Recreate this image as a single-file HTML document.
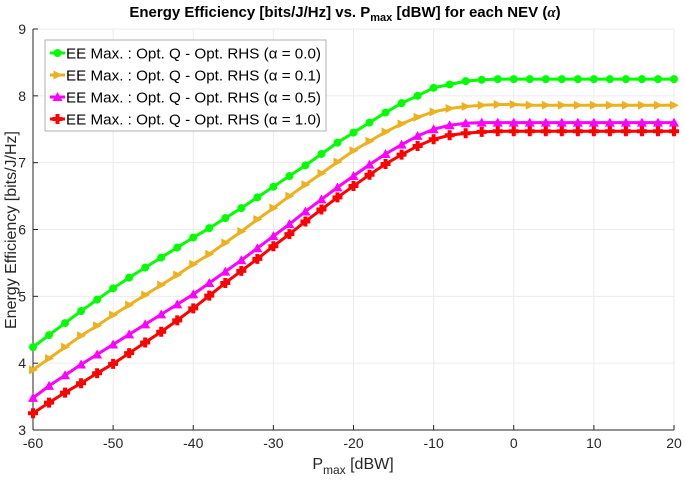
<!DOCTYPE html>
<html><head><meta charset="utf-8"><style>
body{margin:0;background:#fff;font-family:"Liberation Sans",sans-serif}
svg{display:block}
</style></head><body>
<svg id="c" width="685" height="481">
<text x="345" y="17" text-anchor="middle" font-size="15" font-weight="bold" fill="#000">Energy Efficiency [bits/J/Hz] vs. P<tspan font-size="11" dy="4">max</tspan><tspan dy="-4"> [dBW] for each NEV (</tspan><tspan font-style="italic" font-family="Liberation Serif">α</tspan>)</text>
<g id="grid"></g><g id="axes"></g><g id="series"></g><g id="legend"></g>
<text x="353" y="469" text-anchor="middle" font-size="16" fill="#262626">P<tspan font-size="12" dy="5">max</tspan><tspan dy="-5"> [dBW]</tspan></text>
<text transform="translate(16,230) rotate(-90)" text-anchor="middle" font-size="16" fill="#262626">Energy Efficiency [bits/J/Hz]</text>
</svg>
<script>
const xs=[-60,-58,-56,-54,-52,-50,-48,-46,-44,-42,-40,-38,-36,-34,-32,-30,-28,-26,-24,-22,-20,-18,-16,-14,-12,-10,-8,-6,-4,-2,0,2,4,6,8,10,12,14,16,18,20];
const green=[4.24,4.42,4.6,4.78,4.95,5.12,5.28,5.43,5.58,5.73,5.88,6.02,6.17,6.32,6.48,6.64,6.8,6.96,7.13,7.3,7.45,7.6,7.75,7.89,8.0,8.12,8.17,8.22,8.24,8.25,8.25,8.25,8.25,8.25,8.25,8.25,8.25,8.25,8.25,8.25,8.25];
const orange=[3.9,4.07,4.24,4.41,4.56,4.72,4.87,5.02,5.17,5.32,5.48,5.63,5.8,5.97,6.15,6.32,6.5,6.67,6.84,7.01,7.18,7.32,7.46,7.58,7.68,7.76,7.81,7.84,7.86,7.87,7.87,7.86,7.86,7.86,7.86,7.86,7.86,7.86,7.86,7.86,7.86];
const magenta=[3.48,3.66,3.82,3.98,4.13,4.28,4.43,4.58,4.73,4.88,5.03,5.2,5.37,5.54,5.72,5.9,6.08,6.27,6.45,6.63,6.8,6.97,7.13,7.27,7.4,7.5,7.56,7.59,7.6,7.6,7.6,7.6,7.6,7.6,7.6,7.6,7.6,7.6,7.6,7.6,7.6];
const red=[3.25,3.41,3.56,3.7,3.85,3.99,4.15,4.31,4.47,4.64,4.82,5.01,5.2,5.38,5.56,5.75,5.93,6.12,6.3,6.48,6.65,6.82,6.98,7.12,7.25,7.35,7.41,7.44,7.46,7.47,7.47,7.47,7.47,7.47,7.47,7.47,7.47,7.47,7.47,7.47,7.47];
const xTicks=[-60,-50,-40,-30,-20,-10,0,10,20];
const yTicks=[3,4,5,6,7,8,9];
const labels=["EE Max. : Opt. Q - Opt. RHS (α = 0.0)","EE Max. : Opt. Q - Opt. RHS (α = 0.1)","EE Max. : Opt. Q - Opt. RHS (α = 0.5)","EE Max. : Opt. Q - Opt. RHS (α = 1.0)"];
const NS="http://www.w3.org/2000/svg";
const L=33,R=674,T=29,B=430;
const X=v=>L+(v+60)/80*(R-L), Y=v=>B-(v-3)/6*(B-T);
function mk(t,a,p){const e=document.createElementNS(NS,t);for(const k in a)e.setAttribute(k,a[k]);(p||document.getElementById('c')).appendChild(e);return e;}
const grid=document.getElementById('grid'),axes=document.getElementById('axes'),ser=document.getElementById('series'),leg=document.getElementById('legend');
mk('rect',{x:L,y:T,width:R-L,height:B-T,fill:'#fff',stroke:'none'},grid);
xTicks.forEach(t=>{const x=X(t);
 const g=mk('line',{x1:x,x2:x,y1:T,y2:B,stroke:'#ebebeb','stroke-width':1},grid);
 
 mk('line',{x1:x,x2:x,y1:B,y2:B-5,stroke:'#262626'},axes);
 const tx=mk('text',{x:x,y:B+18,'text-anchor':'middle','font-size':14,fill:'#262626'},axes);tx.textContent=t;
 });
yTicks.forEach(t=>{const y=Y(t);
 const g=mk('line',{x1:L,x2:R,y1:y,y2:y,stroke:'#ebebeb','stroke-width':1},grid);
 
 mk('line',{x1:L,x2:L+5,y1:y,y2:y,stroke:'#262626'},axes);
 const tx=mk('text',{x:L-7,y:y+5,'text-anchor':'end','font-size':14,fill:'#262626'},axes);tx.textContent=t;
 });
mk('line',{x1:L,x2:R,y1:B,y2:B,stroke:'#262626'},axes);
mk('line',{x1:L,x2:L,y1:T,y2:B,stroke:'#262626'},axes);
const series=[[green,'#00ff00','circle'],[orange,'#edb120','right'],[magenta,'#ff00ff','up'],[red,'#ff0000','plus']];
function marker(kind,x,y,col,p){
 if(kind==='circle')return mk('circle',{cx:x,cy:y,r:4,fill:col},p);
 if(kind==='right')return mk('polygon',{points:`${x-4},${y-4.5} ${x+5},${y} ${x-4},${y+4.5}`,fill:col},p);
 if(kind==='up')return mk('polygon',{points:`${x},${y-5} ${x+5},${y+4} ${x-5},${y+4}`,fill:col},p);
 return mk('path',{d:`M${x-2},${y-5}h4v3h3v4h-3v3h-4v-3h-3v-4h3z`,fill:col},p);
}
series.forEach((s,i)=>{const [d,col,kind]=s;
 const g=mk('g',{},ser);
 const pl=mk('polyline',{points:xs.map((v,j)=>X(v)+','+Y(d[j])).join(' '),fill:'none',stroke:col,'stroke-width':3},g);
 
 xs.forEach((v,j)=>{const m=marker(kind,X(v),Y(d[j]),col,g);});
});
const lb=mk('rect',{x:45,y:40,width:281,height:91,fill:'#fff',stroke:'#b0b0b0'},leg);

series.forEach((s,i)=>{const y=53+i*22;
 const g=mk('g',{},leg);
 mk('line',{x1:50,x2:65,y1:y,y2:y,stroke:s[1],'stroke-width':3},g);
 marker(s[2],57.5,y,s[1],g);
 const t=mk('text',{x:66,y:y+5.5,'font-size':14.5,fill:'#000',textLength:255,lengthAdjust:'spacingAndGlyphs'},g);t.textContent=labels[i];
});
</script>
</body></html>
